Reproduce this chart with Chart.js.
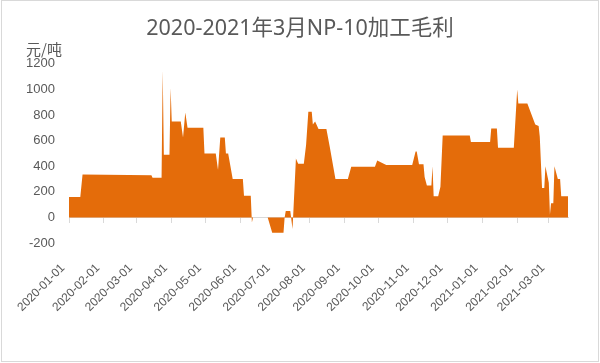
<!DOCTYPE html>
<html>
<head>
<meta charset="utf-8">
<script src="https://cdn.jsdelivr.net/npm/chart.js@4.4.1/dist/chart.umd.min.js"></script>
<style>
html,body{margin:0;padding:0;background:#fff;}
#wrap{width:600px;height:363px;position:relative;}
</style>
</head>
<body>
<div id="wrap"><canvas id="c" width="600" height="363"></canvas></div>
<script>
// ---- data ----
const titleText = '2020-2021年3月NP-10加工毛利';
const unitText = '元/吨';

const dates = [
  '2020-01-01','2020-01-11','2020-01-13','2020-03-14','2020-03-15','2020-03-23','2020-03-24','2020-03-25',
  '2020-03-30','2020-03-31','2020-04-01','2020-04-09','2020-04-11','2020-04-13','2020-04-15','2020-04-29',
  '2020-04-30','2020-05-10','2020-05-12','2020-05-14','2020-05-18','2020-05-19','2020-05-21','2020-05-25',
  '2020-06-03','2020-06-04','2020-06-10','2020-06-11','2020-06-12','2020-06-25','2020-06-29','2020-07-09',
  '2020-07-10','2020-07-11','2020-07-15','2020-07-17','2020-07-20','2020-07-22','2020-07-27','2020-07-29',
  '2020-07-31','2020-08-03','2020-08-04','2020-08-06','2020-08-09','2020-08-16','2020-08-19','2020-08-24',
  '2020-09-04','2020-09-07','2020-09-28','2020-09-30','2020-10-08','2020-10-31','2020-11-03','2020-11-04',
  '2020-11-06','2020-11-10','2020-11-11','2020-11-13','2020-11-17','2020-11-18','2020-11-19','2020-11-23',
  '2020-11-25','2020-11-27','2020-12-21','2020-12-22','2021-01-08','2021-01-09','2021-01-14','2021-01-15',
  '2021-01-29','2021-02-01','2021-02-02','2021-02-10','2021-02-17','2021-02-20','2021-02-21','2021-02-23',
  '2021-02-25','2021-02-26','2021-03-01','2021-03-02','2021-03-03','2021-03-05','2021-03-06','2021-03-09',
  '2021-03-11','2021-03-12','2021-03-18'
];
const margins = [
  160,160,335,330,310,310,1150,490,
  490,1010,750,750,625,820,700,700,
  500,500,370,625,625,500,500,300,
  300,170,170,-40,0,0,-120,-120,
  0,50,50,-90,460,420,420,565,
  825,825,725,750,690,690,550,300,
  300,395,395,445,410,410,515,515,
  415,415,315,250,250,400,165,165,
  240,640,640,590,590,695,695,545,
  545,1000,890,890,725,715,630,230,
  230,400,270,20,110,110,400,300,
  300,165,165
];
const monthTicks = [
  '2020-01-01','2020-02-01','2020-03-01','2020-04-01','2020-05-01','2020-06-01','2020-07-01','2020-08-01',
  '2020-09-01','2020-10-01','2020-11-01','2020-12-01','2021-01-01','2021-02-01','2021-03-01'
];
const yMin = -200, yMax = 1200, yStep = 200;

// ---- helpers ----
function dayOf(s){
  const [y,m,d] = s.split('-').map(Number);
  return (Date.UTC(y,m-1,d) - Date.UTC(2020,0,1)) / 86400000;
}
const xMin = dayOf(dates[0]);
const xMax = dayOf(dates[dates.length-1]);
const tickLabelByDay = {};
monthTicks.forEach(t => { tickLabelByDay[dayOf(t)] = t; });
const points = dates.map((d,i) => ({x: dayOf(d), y: margins[i]}));
const textColor = '#595959';
const axisColor = '#D9D9D9';

const frame = {
  id: 'frame',
  beforeDraw(chart){
    const ctx = chart.ctx;
    ctx.save();
    ctx.fillStyle = '#fff';
    ctx.fillRect(0,0,chart.width,chart.height);
    ctx.strokeStyle = axisColor;
    ctx.lineWidth = 1;
    ctx.strokeRect(1.5,0.5,chart.width-3,chart.height-2);
    ctx.restore();
  },
  afterDraw(chart){
    const ctx = chart.ctx;
    const ys = chart.scales.y;
    ctx.save();
    ctx.font = '15px "Noto Sans CJK SC"';
    ctx.fillStyle = textColor;
    ctx.textAlign = 'right';
    ctx.textBaseline = 'middle';
    ctx.fillText(unitText, ys.right - 7, chart.chartArea.top - 15);
    ctx.restore();
  }
};

const monthTickBuilder = s => { s.ticks = monthTicks.map(t => ({value: dayOf(t)})); };

new Chart(document.getElementById('c'), {
  type: 'line',
  data: {
    datasets: [{
      data: points,
      fill: 'origin',
      backgroundColor: '#E46C0A',
      borderColor: '#E46C0A',
      borderWidth: 0,
      pointRadius: 0,
      tension: 0,
      xAxisID: 'x',
      yAxisID: 'y'
    }]
  },
  options: {
    responsive: false,
    animation: false,
    devicePixelRatio: 1,
    layout: {padding: 0},
    plugins: {
      legend: {display: false},
      tooltip: {enabled: false},
      title: {
        display: true,
        text: titleText,
        color: textColor,
        font: {family: '"Noto Sans", "Noto Sans CJK SC"', size: 21.5, weight: 'normal'},
        padding: {top: 16, bottom: 22}
      }
    },
    scales: {
      x: {
        type: 'linear',
        position: 'bottom',
        min: xMin, max: xMax,
        afterBuildTicks: monthTickBuilder,
        afterFit: s => { s.height = 120; },
        grid: {display: false, drawTicks: false},
        border: {display: false},
        ticks: {
          autoSkip: false,
          minRotation: 45, maxRotation: 45,
          padding: 18,
          labelOffset: -6,
          color: textColor,
          font: {family: '"Liberation Sans"', size: 12},
          callback: v => tickLabelByDay[v] || ''
        }
      },
      x0: {
        type: 'linear',
        position: {y: 0},
        min: xMin, max: xMax,
        afterBuildTicks: monthTickBuilder,
        grid: {drawOnChartArea: false, drawTicks: true, tickLength: 5, color: axisColor},
        border: {display: true, color: axisColor, width: 1},
        ticks: {display: false}
      },
      y: {
        type: 'linear',
        position: 'left',
        min: yMin, max: yMax,
        afterFit: s => { s.width = 69; },
        grid: {display: false, drawTicks: false},
        border: {display: false},
        ticks: {
          stepSize: yStep,
          padding: 14,
          color: textColor,
          font: {family: '"Liberation Sans"', size: 13},
          callback: v => String(v)
        }
      },
      yRight: {
        type: 'linear',
        position: 'right',
        min: yMin, max: yMax,
        afterFit: s => { s.width = 32; },
        grid: {display: false, drawTicks: false},
        border: {display: false},
        ticks: {display: false}
      }
    }
  },
  plugins: [frame]
});
</script>
</body>
</html>
